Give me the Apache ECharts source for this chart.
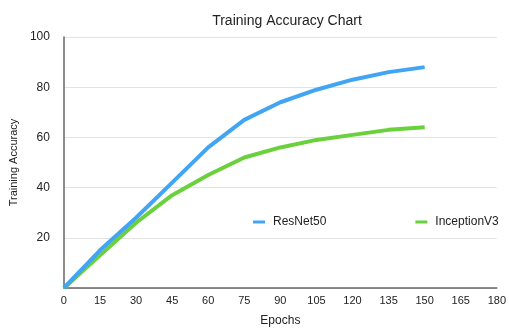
<!DOCTYPE html>
<html>
<head>
<meta charset="utf-8">
<script src="https://cdn.jsdelivr.net/npm/echarts@6/dist/echarts.min.js"></script>
<style>
  html, body { margin: 0; padding: 0; background: #fff; }
  #chart { width: 509px; height: 332px; }
</style>
</head>
<body>
<div id="chart"></div>
<script>
// Epochs sampled along the x axis
const epochs = [0, 15, 30, 45, 60, 75, 90, 105, 120, 135, 150];
// Training accuracy (%) per model
const resnet50 = [0, 15, 28, 42, 56, 67, 74, 79, 83, 86, 88];
const inceptionV3 = [0, 13, 26, 37, 45, 52, 56, 59, 61, 63, 64];

const FONT = 'Liberation Sans, Arial, sans-serif';

function pairs(xs, ys) {
  return xs.map((x, i) => [x, ys[i]]);
}

const chart = echarts.init(document.getElementById('chart'), null, { renderer: 'canvas' });
chart.setOption({
  animation: false,
  backgroundColor: '#ffffff',
  title: {
    text: 'Training Accuracy Chart',
    left: 282, top: 9, textAlign: 'center',
    textStyle: { fontFamily: FONT, fontSize: 14, fontWeight: 'normal', color: '#222' }
  },
  legend: {
    left: 248, top: 211,
    itemGap: 89,
    itemWidth: 12, itemHeight: 3,
    icon: 'rect',
    textStyle: { fontFamily: FONT, fontSize: 12, color: '#222', padding: [0, 0, 0, 3] },
    data: ['ResNet50', 'InceptionV3']
  },
  grid: { left: 63, right: 9, top: 37, bottom: 39, containLabel: false },
  xAxis: {
    type: 'value', min: 0, max: 180, interval: 15,
    name: 'Epochs', nameLocation: 'middle', nameGap: 27,
    nameTextStyle: { fontFamily: FONT, fontSize: 12, color: '#222' },
    axisLine: { show: true, lineStyle: { color: '#666', width: 1.5 } },
    axisTick: { show: false },
    axisLabel: { fontFamily: FONT, fontSize: 11, color: '#222', margin: 7 },
    splitLine: { show: false }
  },
  yAxis: {
    type: 'value', min: 0, max: 100, interval: 20,
    name: 'Training Accuracy', nameLocation: 'middle', nameGap: 43, nameRotate: 90,
    nameTextStyle: { fontFamily: FONT, fontSize: 11, color: '#222' },
    axisLine: { show: true, lineStyle: { color: '#666', width: 1.5 } },
    axisTick: { show: false },
    axisLabel: {
      fontFamily: FONT, fontSize: 12, color: '#222', margin: 14,
      formatter: v => (v === 0 ? '' : String(v))
    },
    splitLine: { show: true, lineStyle: { color: '#e3e3e3', width: 1 } }
  },
  series: [
    {
      name: 'ResNet50', type: 'line', data: pairs(epochs, resnet50),
      showSymbol: false, symbol: 'none',
      lineStyle: { color: '#41a5f4', width: 4 },
      itemStyle: { color: '#41a5f4' }, z: 3
    },
    {
      name: 'InceptionV3', type: 'line', data: pairs(epochs, inceptionV3),
      showSymbol: false, symbol: 'none',
      lineStyle: { color: '#6ad13c', width: 4 },
      itemStyle: { color: '#6ad13c' }, z: 2
    }
  ]
});
</script>
</body>
</html>
